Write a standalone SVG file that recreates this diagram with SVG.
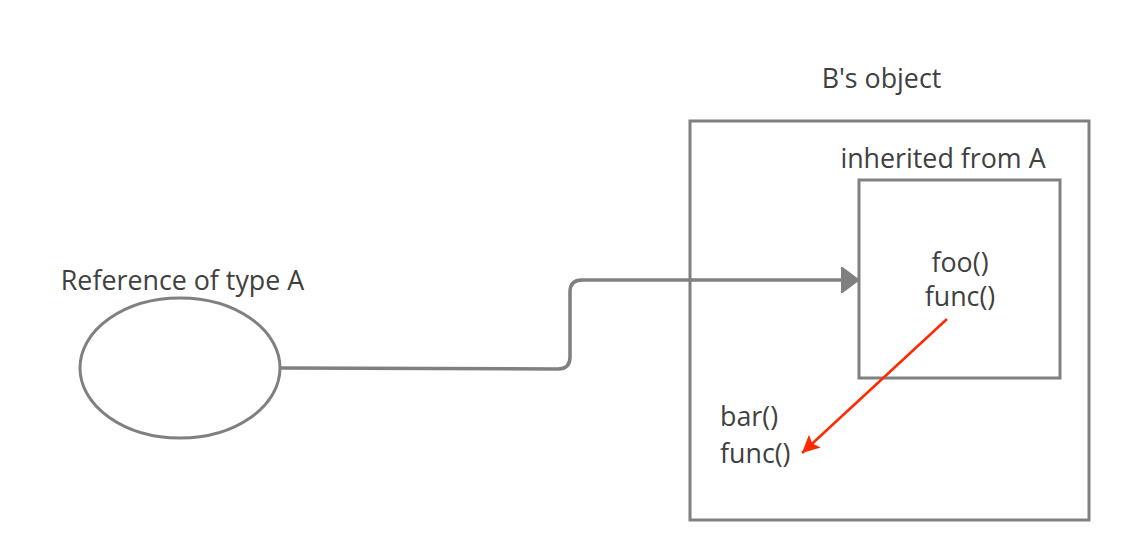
<svg xmlns="http://www.w3.org/2000/svg" width="1131" height="560" viewBox="0 0 1131 560">
<style>
.shape{fill:#fff;stroke:#808080;stroke-width:3}
.t{font-family:"Open Sans","Liberation Sans",sans-serif;font-size:26.8px;fill:#404040}
.c{fill:none;stroke:#808080;stroke-width:3.5}
.r{fill:none;stroke:#ff2a00;stroke-width:2.5}
</style>
<defs>
<marker id="ga" viewBox="0 0 10 10" refX="10" refY="5" markerWidth="5" markerHeight="7.5" markerUnits="strokeWidth" orient="auto" preserveAspectRatio="none">
<path d="M0,0 L10,5 L0,10 z" fill="#808080" stroke="#808080" stroke-linejoin="round"/>
</marker>
<marker id="ra" viewBox="0 0 10 10" refX="10" refY="5" markerWidth="7" markerHeight="7" markerUnits="strokeWidth" orient="auto">
<path d="M0,0 L10,5 L0,10 L2,5 z" fill="#ff2a00"/>
</marker>
</defs>
<g id="outer">
<rect class="shape" x="690" y="121" width="399" height="399"/>
<text class="t" x="881.5" y="88" text-anchor="middle">B's object</text>
<text class="t" x="720" y="426">bar()</text>
<text class="t" x="720" y="463">func()</text>
</g>
<g id="inner">
<rect class="shape" x="859" y="180" width="201" height="198"/>
<text class="t" x="943" y="168" text-anchor="middle">inherited from A</text>
<text class="t" x="960" y="272" text-anchor="middle">foo()</text>
<text class="t" x="960" y="306" text-anchor="middle">func()</text>
</g>
<g id="ref">
<ellipse class="shape" cx="180" cy="368" rx="100" ry="70"/>
<text class="t" x="182.5" y="290" text-anchor="middle">Reference of type A</text>
</g>
<g id="connectors">
<path class="c" d="M281,368 L558,369 Q570,369 570,357 L570,292 Q570,280 582,280 L858,280" marker-end="url(#ga)"/>
<path class="r" d="M947,319 L802,453" marker-end="url(#ra)"/>
</g>
</svg>
